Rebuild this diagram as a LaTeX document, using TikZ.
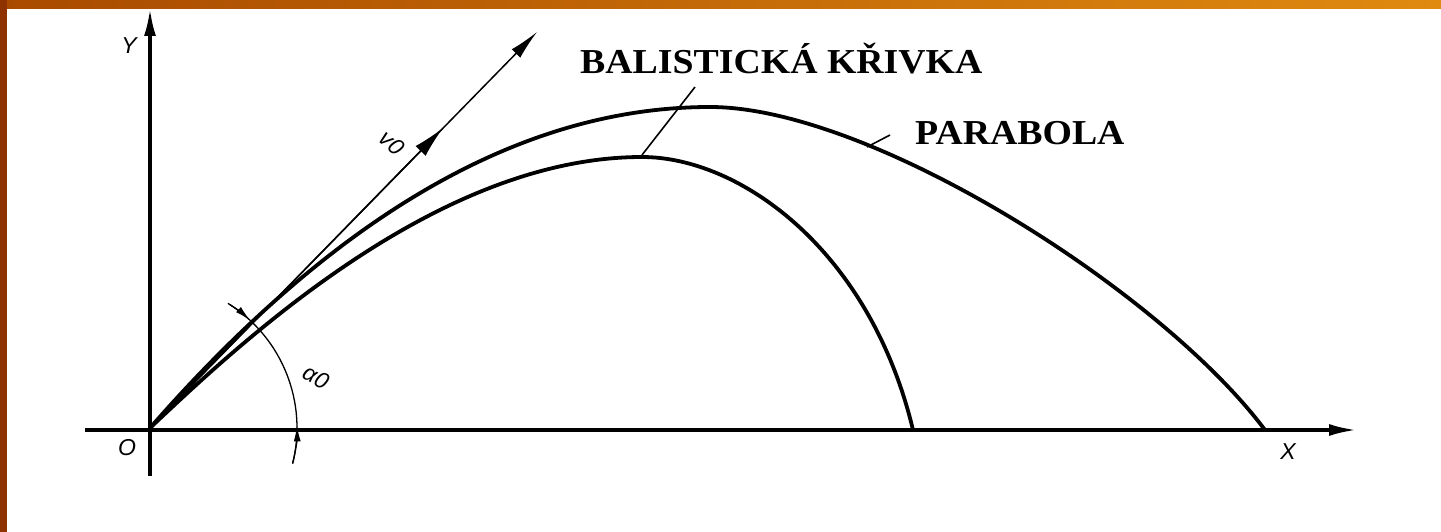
\documentclass[tikz,border=0pt]{standalone}
\usepackage{fontspec}
\setmainfont{Liberation Serif}
\newfontfamily\techfont{Liberation Sans}
\usetikzlibrary{arrows.meta,calc}
\definecolor{bordertop}{HTML}{A94A00}
\definecolor{bordertopR}{HTML}{E08A10}
\definecolor{borderleft}{HTML}{8E3200}
\tikzset{
  axisline/.style={line width=3.6pt,-{Latex[length=28pt,width=12pt]}},
  curveline/.style={line width=3.8pt,line cap=round,line join=round},
  thinline/.style={line width=1.5pt},
  leader/.style={line width=1.6pt},
  biglabel/.style={font=\bfseries\fontsize{35}{40}\selectfont,inner sep=0pt},
  techlabel/.style={font=\techfont\itshape\fontsize{23}{26}\selectfont,inner sep=0pt},
}
\begin{document}
\begin{tikzpicture}[x=1pt,y=-1pt]
\useasboundingbox (0,0) rectangle (1441,532);
\fill[white] (0,0) rectangle (1441,532);
% border
\shade[left color=bordertop,right color=bordertopR] (0,0) rectangle (1441,9);
\fill[borderleft] (0,0) rectangle (7,532);
% coordinates
\coordinate (O) at (150,428);
\coordinate (yBot) at (150,476);
\coordinate (yTop) at (150,8);
\coordinate (xLeft) at (85,430);
\coordinate (xRight) at (1357,430);
\coordinate (v0end) at (537,32);
\coordinate (v0mid) at (443,128);
\coordinate (parTop) at (710,107);
\coordinate (parEnd) at (1265,430);
\coordinate (balTop) at (642,157);
\coordinate (balEnd) at (913,430);
% axes
\draw[axisline] (yBot) -- (yTop);
\draw[axisline] (xLeft) -- (xRight);
% v0 vector
\draw[thinline,-{Latex[length=30pt,width=12pt]}] (O) -- (v0end);
\draw[thinline,-{Latex[length=32pt,width=14pt]}] (O) -- (v0mid);
% parabola
\draw[curveline] (O) .. controls (337,214) and (523,107) .. (parTop)
  .. controls (870,107) and (1160,290) .. (parEnd);
% ballistic curve
\draw[curveline] (O) .. controls (250,333) and (442,157) .. (balTop)
  .. controls (740,157) and (870,250) .. (balEnd);
% angle arc
\draw[line width=1.3pt] ($(O)+(-57:147)$) arc[start angle=-57,end angle=14,radius=147];
\draw[line width=1.3pt,-{Latex[length=16pt,width=7pt]}] ($(O)+(-58:147)$) arc[start angle=-58,end angle=-47,radius=147];
\draw[line width=1.3pt,-{Latex[length=16pt,width=7pt]}] ($(O)+(14:147)$) arc[start angle=14,end angle=-1,radius=147];
% labels
\node[biglabel,anchor=base west] (bal) at (580,74) {\scalebox{1.08}[1]{BALISTICKÁ KŘIVKA}};
\node[biglabel,anchor=base west] (par) at (915,145) {\scalebox{1.08}[1]{PARABOLA}};
\coordinate (balA) at (695,87);
\coordinate (balB) at (642,155);
\coordinate (parA) at (890,135);
\coordinate (parB) at (867,147);
\draw[leader] (balA) -- (balB);
\draw[leader] (parA) -- (parB);
\node[techlabel] (ylab) at (129,46) {Y};
\node[techlabel] (olab) at (127,448) {O};
\node[techlabel] (xlab) at (1288,452) {X};
\node[techlabel,rotate=-28] (alab) at (316,377) {α0};
\node[techlabel,rotate=-42] (vlab) at (392,143) {v0};
\end{tikzpicture}
\end{document}
